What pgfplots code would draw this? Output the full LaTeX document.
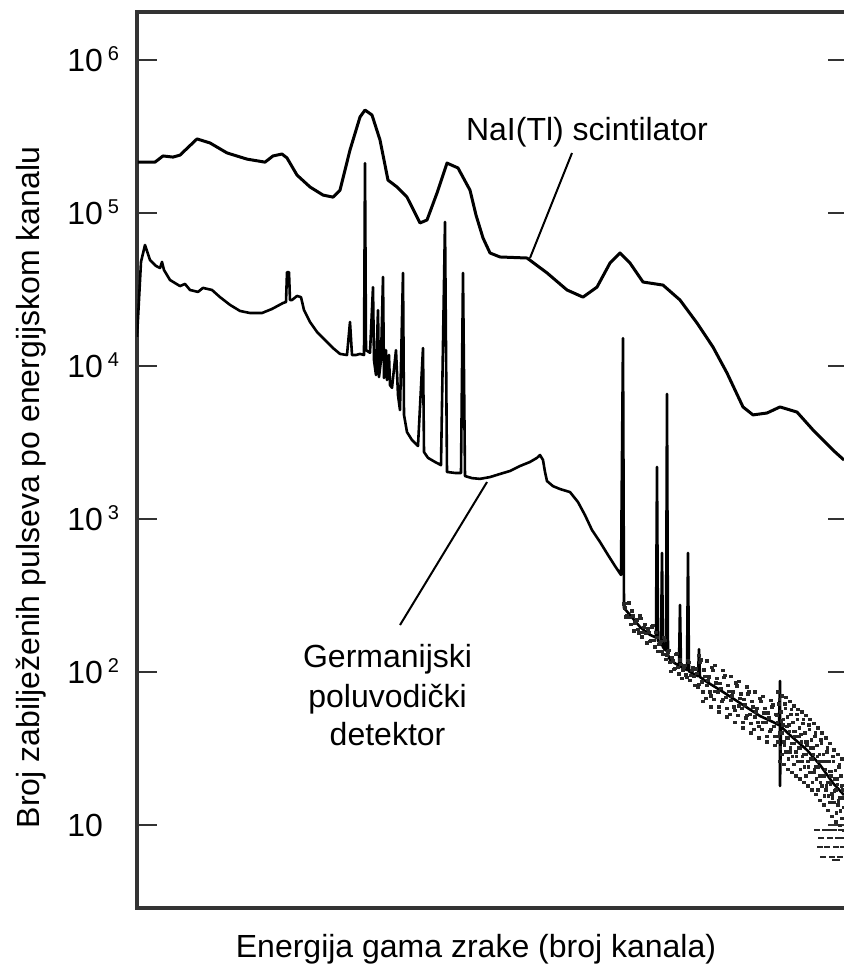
\documentclass[border=0pt]{standalone}
\usepackage{fontspec}
\setmainfont{Liberation Sans}
\usepackage{pgfplots}
\pgfplotsset{compat=1.18}

\newcommand{\expo}[1]{\hspace{2.5pt}\raisebox{5.5pt}{\fontsize{10}{10}\selectfont #1}}

\begin{document}
\begin{tikzpicture}[font=\fontsize{16}{19}\selectfont]
\begin{axis}[
  at={(0,0)}, anchor=south west,
  scale only axis, width=355.5pt, height=448pt,
  xmin=0, xmax=711,
  ymode=log, ymin=2.868, ymax=2.06e6,
  xtick=\empty,
  ytick={10,100,1000,10000,100000,1000000},
  yticklabels={10, 10\expo{2}, 10\expo{3}, 10\expo{4}, 10\expo{5}, 10\expo{6}},
  yminorticks=false,
  ytick pos=both,
  tick align=inside,
  major tick length=10pt,
  tick style={black!80, line width=1.4pt},
  axis line style={black!80, line width=1.6pt},
  yticklabel style={anchor=base west, inner sep=0pt, xshift=-35pt, yshift=-5.75pt},
  xlabel={Energija gama zrake (broj kanala)},
  ylabel={Broj zabilježenih pulseva po energijskom kanalu},
  xlabel style={at={(axis description cs:0.4768,0)}, anchor=base, yshift=-25pt},
  ylabel style={at={(axis description cs:0,0.4693)}, anchor=base, yshift=48.5pt},
]

% NaI(Tl) scintilator
\addplot[black, line width=1.5pt, line join=round] coordinates {
(1,2.15e5) (18,2.15e5) (26,2.36e5) (36,2.32e5) (43,2.39e5) (60,3.05e5)
(73,2.87e5) (90,2.47e5) (110,2.25e5) (128,2.15e5) (136,2.36e5) (145,2.43e5)
(150,2.29e5) (160,1.77e5) (173,1.48e5) (186,1.31e5) (196,1.27e5) (203,1.41e5)
(213,2.58e5) (223,4.24e5) (228,4.71e5) (235,4.37e5) (243,3.00e5) (251,1.64e5)
(260,1.48e5) (270,1.27e5) (283,8.61e4) (290,9.0e4) (300,1.35e5) (310,2.12e5)
(321,1.97e5) (333,1.41e5) (339,9.7e4) (346,6.87e4) (353,5.48e4) (363,5.16e4)
(390,5.08e4) (410,4.06e4) (430,3.14e4) (446,2.82e4) (460,3.28e4) (473,4.71e4)
(483,5.48e4) (493,4.71e4) (506,3.54e4) (526,3.38e4) (543,2.70e4) (560,1.91e4)
(576,1.33e4) (590,9.0e3) (606,5.40e3) (616,4.79e3) (630,4.93e3) (643,5.40e3)
(660,5.0e3) (676,3.82e3) (696,2.82e3) (707,2.43e3)
};

% Germanijski poluvodički detektor
\addplot[black, line width=1.3pt, line join=round] coordinates {
(0,1.55e4) (2,2.70e4) (4,4.79e4) (8,6.18e4) (13,4.93e4) (19,4.51e4) (23,4.37e4)
(25,4.79e4) (27,4.24e4) (33,3.65e4) (43,3.33e4) (48,3.44e4) (53,3.14e4)
(61,3.05e4) (66,3.24e4) (75,3.14e4) (83,2.82e4) (93,2.51e4) (103,2.29e4)
(113,2.22e4) (125,2.22e4) (135,2.36e4) (146,2.58e4) (149,2.62e4) (150,4.11e4)
(152,4.11e4) (153,2.70e4) (155,2.70e4) (160,2.87e4) (164,2.82e4) (167,2.32e4)
(173,1.94e4) (180,1.67e4) (188,1.48e4) (196,1.31e4) (203,1.20e4) (210,1.18e4)
(213,1.94e4) (215,1.18e4) (219,1.18e4) (223,1.20e4) (227,1.18e4) (228,2.12e5)
(229,1.27e4) (233,1.22e4) (236,3.28e4) (237,1.09e4) (239,8.73e3) (241,2.32e4)
(242,8.47e3) (244,1.09e4) (246,3.82e4) (247,8.35e3) (249,1.27e4) (250,8.1e3)
(252,1.18e4) (253,7.5e3) (255,7.2e3) (259,1.27e4) (261,6.46e3) (263,5.15e3)
(266,4.06e4) (267,4.79e3) (270,3.70e3) (275,3.28e3) (281,3.0e3) (286,1.31e4)
(287,2.74e3) (291,2.51e3) (298,2.36e3) (304,2.25e3) (308,8.73e4) (310,2.03e3)
(318,2.0e3) (324,2.0e3) (326,4.06e4) (328,1.91e3) (335,1.85e3) (343,1.83e3)
(353,1.88e3) (363,1.97e3) (373,2.06e3) (383,2.22e3) (393,2.36e3) (400,2.51e3)
(403,2.62e3) (406,2.43e3) (408,2.03e3) (410,1.77e3) (416,1.64e3) (423,1.57e3)
(433,1.50e3) (441,1.29e3) (448,1.06e3) (455,847) (463,708) (471,582) (478,493)
(484,431) (486,1.52e4) (487,262) (493,236) (503,197) (508,185) (513,175)
(519,168) (520,2.19e3) (521,160) (524,150) (525,600) (526,145) (529,138)
(530,6.56e3) (531,130) (533,120) (538,114) (542,110) (543,274) (544,108)
(550,103) (551,600) (552,101) (553,100) (561,94) (562,141) (563,92.7) (570,86)
(583,76.3) (603,62.7) (623,51.6) (636,47.1) (642,45) (643,87.3) (643,18)
(644,44) (653,38.7) (670,30.9) (683,24.7) (696,18.8) (707,15.7)
};

% raspršene točke oko spektra
\addplot[only marks, mark=square*, mark size=0.6pt, black!85] coordinates {
(487,278) (489,229) (491,282) (493,227) (495,251) (497,186) (499,215) (501,190)
(503,232) (505,170) (507,196) (509,178) (511,191) (513,158) (515,197) (517,161)
(519,182) (521,136) (523,155) (525,136) (527,168) (529,121) (531,135) (533,116)
(535,125) (537,104) (539,130) (541,107) (543,120) (545,91) (547,107) (549,96)
(551,119) (553,88) (555,102) (557,94)
(488,263) (490,232) (492,283) (494,204) (496,232) (498,209) (500,219) (502,180)
(504,224) (506,182) (508,205) (510,155) (512,181) (514,161) (516,201) (518,146)
(520,168) (522,151) (524,158) (526,130) (528,161) (530,129) (532,138) (534,101)
(536,118) (538,106) (540,132) (542,97) (544,112) (546,103) (548,110) (550,92)
(552,116) (554,95) (556,107) (558,82)
(559,105) (561,80) (563,116) (565,86) (567,103) (569,67) (571,88) (573,74)
(575,107) (577,66) (579,85) (581,74) (583,84) (585,64) (587,92) (589,68)
(591,82) (593,53) (595,70) (597,59) (599,85) (601,52) (603,67) (605,58)
(607,66) (609,50) (611,72) (613,53) (615,64) (617,42) (619,55) (621,47)
(623,67) (625,42) (627,54) (629,47) (631,54) (633,41) (635,59) (637,44) (639,53)
(560,98) (562,83) (564,120) (566,74) (568,94) (570,82) (572,93) (574,70)
(576,102) (578,75) (580,91) (582,59) (584,78) (586,66) (588,95) (590,58)
(592,75) (594,65) (596,74) (598,56) (600,81) (602,60) (604,72) (606,47)
(608,61) (610,52) (612,74) (614,46) (616,59) (618,51) (620,58) (622,44)
(624,64) (626,47) (628,58) (630,38) (632,50) (634,42) (636,61) (638,38)
(562,128) (566,64) (570,118) (574,59) (578,110) (582,55) (586,102) (590,51)
(594,94) (598,47) (602,87) (606,43) (610,80) (614,40) (618,74) (622,37)
(626,69) (630,35) (634,65) (638,33)
(640,52) (641,35) (642,62) (643,40) (644,55) (645,29) (646,45) (647,35)
(648,62) (649,30) (650,44) (651,37) (652,45) (653,30) (654,53) (655,34)
(656,47) (657,25) (658,38) (659,30) (660,53) (661,26) (662,38) (663,32)
(664,39) (665,26) (666,46) (667,29) (668,40) (669,21) (670,33) (671,26)
(672,45) (673,22) (674,32) (675,27) (676,32) (677,22) (678,38) (679,24)
(680,33) (681,17) (682,26) (683,21) (684,36) (685,18) (686,26) (687,21)
(688,26) (689,17) (690,30) (691,19) (692,26) (693,14) (694,21) (695,16)
(696,28) (697,14) (698,20) (699,17) (700,20) (701,13.5) (702,24) (703,15)
(704,21) (705,11) (706,17) (707,13)
(640.5,47) (641.5,38) (642.5,66) (643.5,32) (644.5,48) (645.5,40) (646.5,49)
(647.5,33) (648.5,58) (649.5,37) (650.5,51) (651.5,27) (652.5,41) (653.5,32)
(654.5,57) (655.5,28) (656.5,41) (657.5,34) (658.5,41) (659.5,28) (660.5,49)
(661.5,32) (662.5,43) (663.5,23) (664.5,35) (665.5,28) (666.5,49) (667.5,24)
(668.5,35) (669.5,29) (670.5,35) (671.5,24) (672.5,42) (673.5,27) (674.5,36)
(675.5,19) (676.5,29) (677.5,23) (678.5,40) (679.5,20) (680.5,28) (681.5,24)
(682.5,29) (683.5,19) (684.5,34) (685.5,21) (686.5,29) (687.5,15.5) (688.5,23)
(689.5,18) (690.5,32) (691.5,15.5) (692.5,22.5) (693.5,18.6) (694.5,22.5)
(695.5,15) (696.5,26) (697.5,16.7) (698.5,22.8) (699.5,12) (700.5,18.4)
(701.5,14.4) (702.5,25) (703.5,12.4) (704.5,18) (705.5,15) (706.5,18.2)
(641,74) (643,26) (645,70) (647,25) (649,68) (651,23) (653,64) (655,22)
(657,60) (659,21) (661,57) (663,20) (665,55) (667,19) (669,52) (671,18)
(673,49) (675,17) (677,46) (679,15.8) (681,43) (683,14.5) (685,40) (687,13.5)
(689,37) (691,12.5) (693,34) (695,11.4) (697,31) (699,10.5) (701,29) (703,9.9)
(705,27) (707,9.2)
};

% niski brojevi na kraju spektra
\addplot[only marks, mark=-, mark size=1.4pt, line width=0.9pt, black!85] coordinates {
(680,9.3) (684,8.2) (686,6.2) (688,9.3) (690,7.2) (693,8.2) (695,6.2) (697,9.3)
(699,7.2) (700,5.9) (701,8.2) (703,6.2) (704,9.3) (706,7.2) (692,9.3) (698,5.9)
(705,8.2) (683,7.2)
};

% oznake
\node[anchor=base] at (rel axis cs:0.6329,0.857) {NaI(Tl) scintilator};
\draw[black, line width=1pt] (rel axis cs:0.6118,0.8426) -- (rel axis cs:0.5527,0.7254);
\node[anchor=base] at (rel axis cs:0.3524,0.2679) {Germanijski};
\node[anchor=base] at (rel axis cs:0.3524,0.2243) {poluvodički};
\node[anchor=base] at (rel axis cs:0.3524,0.1819) {detektor};
\draw[black, line width=1pt] (rel axis cs:0.3699,0.3158) -- (rel axis cs:0.4923,0.4754);
\end{axis}
\pgfresetboundingbox
\path[use as bounding box] (-68.5pt,-28pt) rectangle (353.5pt,454pt);
\end{tikzpicture}
\end{document}
